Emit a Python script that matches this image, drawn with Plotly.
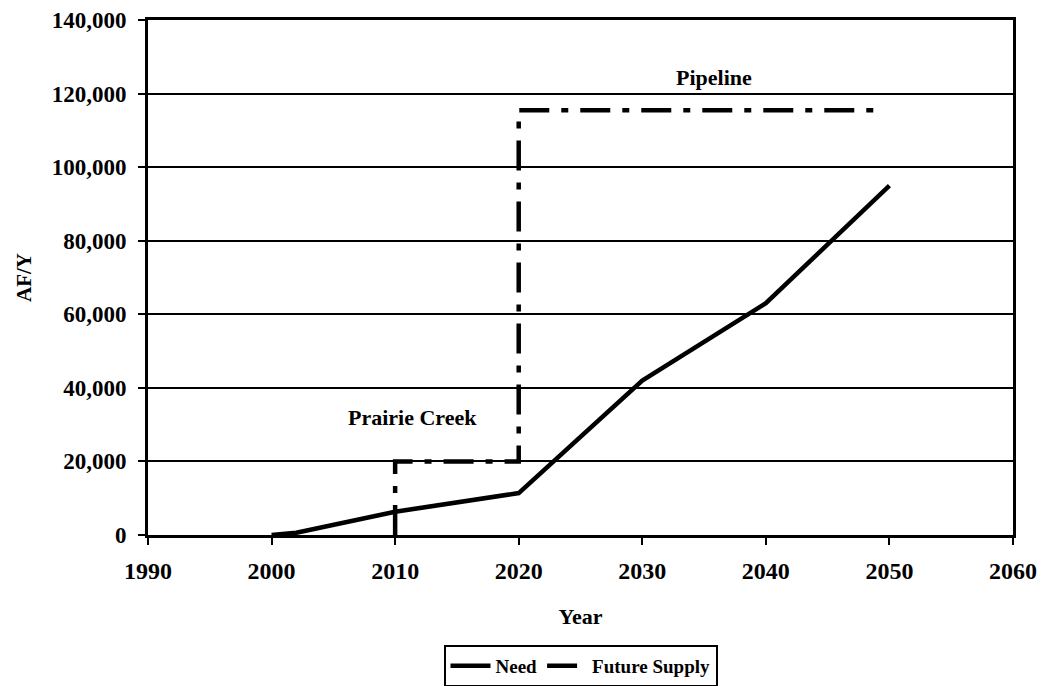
import plotly.graph_objects as go

# Data
need_years = [2000, 2002, 2010, 2020, 2030, 2040, 2050]
need_values = [0, 600, 6300, 11400, 42000, 63000, 95000]

supply_years = [2010, 2010, 2020, 2020, 2049]
supply_values = [0, 20000, 20000, 115500, 115500]

x_ticks = [1990, 2000, 2010, 2020, 2030, 2040, 2050, 2060]
y_ticks = [0, 20000, 40000, 60000, 80000, 100000, 120000, 140000]

labels = ["Pipeline", "Prairie Creek"]
label_x = [2035.8, 2011.4]
label_y = [124300, 31900]

FONT = "Liberation Serif"

fig = go.Figure()
fig.add_trace(go.Scatter(
    x=need_years, y=need_values, mode="lines", name="<b>Need</b>",
    line=dict(color="black", width=4.5),
))
fig.add_trace(go.Scatter(
    x=supply_years, y=supply_values, mode="lines", name="<b>Future Supply</b>",
    line=dict(color="black", width=4.5, dash="30px,12px,7px,12px"),
))

for t, xx, yy in zip(labels, label_x, label_y):
    fig.add_annotation(x=xx, y=yy, text="<b>" + t + "</b>", showarrow=False,
                       font=dict(family=FONT, size=22, color="black"))

fig.update_layout(
    width=1046, height=686,
    margin=dict(l=140, r=41, t=12, b=159),
    paper_bgcolor="white", plot_bgcolor="white",
    font=dict(family=FONT, size=22, color="black"),
    showlegend=True,
    legend=dict(
        orientation="h", x=0.5, xanchor="center",
        yref="container", y=0.0714, yanchor="top",
        bordercolor="black", borderwidth=2, bgcolor="white",
        font=dict(family=FONT, size=19, color="black"),
        itemwidth=40, tracegroupgap=0,
    ),
    xaxis=dict(
        range=[1990, 2060], tickvals=x_ticks,
        ticktext=["<b>%d</b>" % v for v in x_ticks],
        tickfont=dict(family=FONT, size=24),
        showgrid=False, zeroline=False, automargin=False,
        showline=True, linecolor="black", linewidth=3, mirror=True,
        ticks="outside", ticklen=7, tickwidth=2, tickcolor="black",
        ticklabelstandoff=5, ticklabeloverflow="allow",
        title=dict(text="<b>Year</b>", standoff=26, font=dict(family=FONT, size=22)),
    ),
    yaxis=dict(
        range=[0, 140000], tickvals=y_ticks,
        ticktext=["<b>{:,}</b>".format(v) for v in y_ticks],
        tickfont=dict(family=FONT, size=23),
        showgrid=True, gridcolor="black", gridwidth=2, zeroline=False, automargin=False,
        showline=True, linecolor="black", linewidth=3, mirror=True,
        ticks="outside", ticklen=7, tickwidth=2, tickcolor="black",
        ticklabelstandoff=7, ticklabeloverflow="allow",
        title=dict(text="<b>AF/Y</b>", standoff=15, font=dict(family=FONT, size=21)),
    ),
)

fig.write_html("out.html")
